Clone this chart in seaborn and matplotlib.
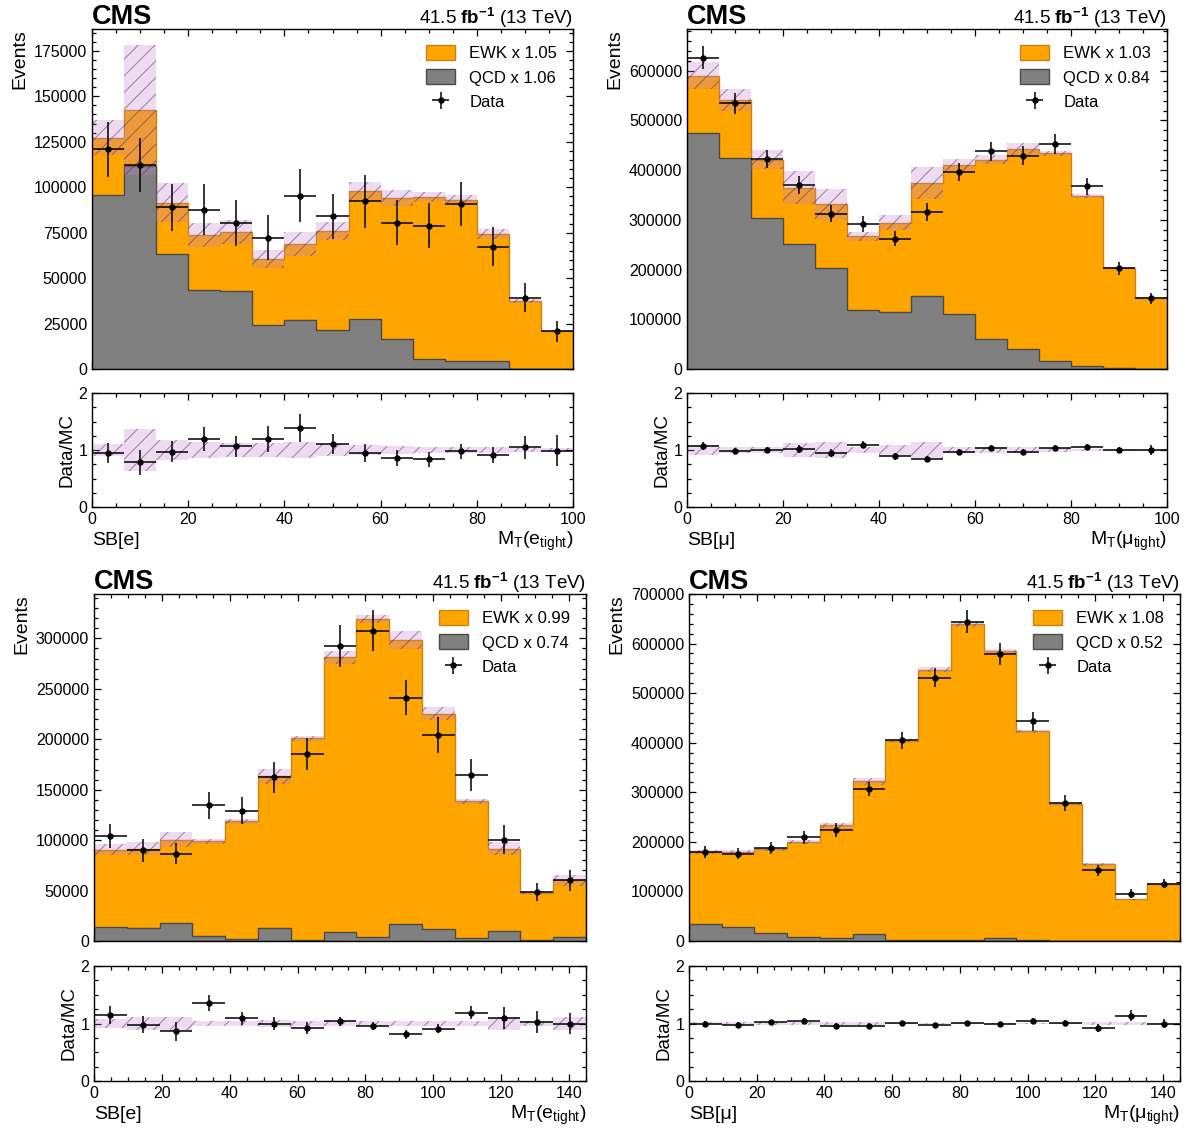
import numpy as np
import pandas as pd
import matplotlib
matplotlib.use("Agg")
import matplotlib.pyplot as plt
import matplotlib.transforms as mtransforms
from matplotlib.ticker import AutoMinorLocator, MultipleLocator
from matplotlib.patches import Patch
import seaborn as sns

sns.set_theme(style="ticks")
plt.rcParams["font.family"] = ["Liberation Sans", "DejaVu Sans"]
plt.rcParams["mathtext.fontset"] = "custom"
plt.rcParams["mathtext.rm"] = "Liberation Sans"
plt.rcParams["mathtext.it"] = "Liberation Sans:italic"
plt.rcParams["mathtext.bf"] = "Liberation Sans:bold"
plt.rcParams["hatch.linewidth"] = 0.8
plt.rcParams["axes.linewidth"] = 1.0
plt.rcParams["text.color"] = "black"
plt.rcParams["axes.labelcolor"] = "black"
plt.rcParams["xtick.color"] = "black"
plt.rcParams["ytick.color"] = "black"
plt.rcParams["axes.edgecolor"] = "black"

# ---------------- binning ----------------
sb_edges = np.linspace(0, 100, 16)
mt_edges = np.linspace(0, 145, 16)

# ---------------- electron sideband ----------------
e_sb_qcd = [95700, 111800, 63100, 43400, 43000, 24200, 26900, 21400, 27600, 16300, 5500, 4600, 4200, 0, 0]
e_sb_ewk = [31500, 30600, 28400, 30200, 32400, 36200, 41700, 54500, 70100, 77600, 88900, 88400, 69900, 37500, 21000]
e_sb_unc = [9500, 35700, 10700, 6500, 6600, 5000, 6700, 4700, 5300, 4300, 2700, 2700, 2800, 1000, 700]
e_sb_data = [120800, 112200, 88900, 87500, 80200, 72300, 95400, 84000, 92200, 80500, 78900, 90800, 67300, 39300, 20700]
e_sb_data_err = [15000, 15000, 13000, 14000, 12500, 12500, 14400, 12300, 14400, 12400, 12600, 12200, 10800, 8000, 5800]
e_sb_ratio_err = [0.18, 0.22, 0.18, 0.21, 0.19, 0.23, 0.245, 0.17, 0.155, 0.14, 0.135, 0.13, 0.14, 0.20, 0.27]
e_sb_ratio_unc = [0.11, 0.365, 0.17, 0.14, 0.12, 0.13, 0.145, 0.10, 0.09, 0.07, 0.05, 0.05, 0.06, 0.03, 0.03]

# ---------------- muon sideband ----------------
m_sb_qcd = [475000, 424200, 304000, 250500, 203700, 118900, 114200, 147000, 110200, 60100, 40700, 16700, 5300, 2000, 700]
m_sb_total = [589800, 541100, 420800, 364700, 331300, 267200, 293900, 374700, 409500, 420800, 442900, 434200, 348000, 202400, 142300]
m_sb_unc = [27000, 22700, 19000, 32700, 31000, 9000, 15000, 31700, 13400, 9000, 12400, 5000, 4400, 2000, 1500]
m_sb_data = [626600, 534400, 422800, 370700, 312600, 292600, 262500, 316000, 396100, 438200, 429500, 452900, 367400, 202400, 142300]
m_sb_data_err = [23400, 21700, 18700, 17700, 17400, 16000, 16000, 17400, 18400, 19000, 18700, 20000, 17700, 12700, 11400]
m_sb_ratio_err = [0.07, 0.05, 0.05, 0.07, 0.07, 0.06, 0.06, 0.06, 0.05, 0.05, 0.05, 0.05, 0.05, 0.06, 0.08]
m_sb_ratio_unc = [0.08, 0.06, 0.045, 0.13, 0.14, 0.06, 0.09, 0.14, 0.06, 0.045, 0.05, 0.03, 0.025, 0.015, 0.015]

# ---------------- electron MT ----------------
e_mt_qcd = [13800, 13200, 17500, 4900, 2300, 13200, 1000, 8900, 4000, 16500, 11500, 3300, 9900, 700, 4300]
e_mt_total = [90600, 91600, 100500, 98900, 118600, 163100, 201000, 281100, 319000, 298300, 225400, 138400, 91600, 47800, 60000]
e_mt_unc = [5300, 6400, 7400, 2600, 2300, 7400, 2500, 6000, 3800, 9000, 6600, 2300, 6600, 1600, 5000]
e_mt_data = [103800, 90000, 86700, 134500, 129200, 162500, 185600, 292700, 307500, 241300, 204400, 164800, 100500, 48800, 60000]
e_mt_data_err = [11900, 11500, 10700, 13500, 13700, 15300, 16000, 20600, 20300, 17600, 17800, 16100, 14700, 9000, 10500]
e_mt_ratio_err = [0.155, 0.14, 0.16, 0.14, 0.115, 0.115, 0.10, 0.08, 0.07, 0.07, 0.08, 0.12, 0.19, 0.19, 0.19]
e_mt_ratio_unc = [0.086, 0.11, 0.115, 0.04, 0.04, 0.066, 0.035, 0.05, 0.035, 0.045, 0.045, 0.035, 0.11, 0.045, 0.11]

# ---------------- muon MT ----------------
m_mt_qcd = [33600, 28200, 15400, 8700, 5400, 14800, 2000, 1300, 2700, 6700, 1300, 700, 300, 0, 0]
m_mt_total = [179900, 179900, 184600, 199300, 233600, 322100, 404000, 547000, 638900, 585200, 422800, 276500, 154400, 83900, 115400]
m_mt_unc = [4000, 4000, 4000, 4000, 5000, 7500, 3000, 5000, 5000, 4500, 3500, 3000, 2500, 1500, 1500]
m_mt_data = [179200, 176500, 187900, 209400, 224800, 306700, 404700, 531500, 644300, 579200, 443000, 278500, 142300, 95300, 115400]
m_mt_data_err = [12000, 12000, 12000, 13000, 14000, 15000, 17500, 20000, 23000, 21700, 19000, 15400, 11000, 9000, 9400]
m_mt_ratio_err = [0.05, 0.05, 0.05, 0.05, 0.05, 0.05, 0.045, 0.04, 0.04, 0.04, 0.045, 0.055, 0.07, 0.10, 0.08]
m_mt_ratio_unc = [0.02, 0.025, 0.02, 0.02, 0.03, 0.03, 0.015, 0.015, 0.015, 0.015, 0.015, 0.015, 0.025, 0.02, 0.015]

# fitted normalisation factors (EWK, QCD)
scale_factors = {
    "e_sb": ("1.05", "1.06"),
    "m_sb": ("1.03", "0.84"),
    "e_mt": ("0.99", "0.74"),
    "m_mt": ("1.08", "0.52"),
}

ORANGE = "#FFA500"
ORANGE_EDGE = "#C98414"
GREY = "#808080"
GREY_EDGE = "#4A4A4A"
BAND_FACE = (0.76, 0.50, 0.82, 0.28)
HATCH_COL = (0.30, 0.22, 0.36, 0.50)

W, H = 1186, 1130
fig = plt.figure(figsize=(W / 100, H / 100), dpi=100)


def rect(x0, x1, ytop, ybot):
    return [x0 / W, 1 - ybot / H, (x1 - x0) / W, (ybot - ytop) / H]


def style_axis(ax):
    ax.tick_params(which="both", direction="in", top=True, right=True,
                   labelsize=11.5, width=0.9, color="black", labelcolor="black")
    ax.tick_params(which="major", length=5)
    ax.tick_params(which="minor", length=2.6)
    for s in ax.spines.values():
        s.set_color("black")
        s.set_linewidth(1.0)


def draw_panel(box_main, box_ratio, edges, qcd, total, unc, data, data_err,
               r_err, r_unc, key, ymax, ystep, region, obs):
    qcd = np.asarray(qcd, float)
    total = np.asarray(total, float)
    unc = np.asarray(unc, float)
    data = np.asarray(data, float)
    data_err = np.asarray(data_err, float)
    r_err = np.asarray(r_err, float)
    r_unc = np.asarray(r_unc, float)
    centers = 0.5 * (edges[:-1] + edges[1:])
    half = 0.5 * np.diff(edges)
    bin_list = [float(e) for e in edges]

    ax = fig.add_axes(rect(*box_main))
    rax = fig.add_axes(rect(*box_ratio), sharex=ax)

    df = pd.DataFrame({"x": centers, "total": total, "qcd": qcd})
    # stacked prediction: EWK on top of QCD
    sns.histplot(data=df, x="x", weights="total", bins=bin_list, element="step",
                 fill=True, color=ORANGE, alpha=1, edgecolor=ORANGE_EDGE,
                 linewidth=1.0, ax=ax, zorder=1)
    sns.histplot(data=df, x="x", weights="qcd", bins=bin_list, element="step",
                 fill=True, color=GREY, alpha=1, edgecolor=GREY_EDGE,
                 linewidth=1.0, ax=ax, zorder=1.1)

    lo = np.append(total - unc, (total - unc)[-1])
    hi = np.append(total + unc, (total + unc)[-1])
    ax.fill_between(edges, lo, hi, step="post", facecolor=BAND_FACE,
                    edgecolor=HATCH_COL, hatch="//", linewidth=0, zorder=2)

    dh = ax.errorbar(centers, data, yerr=data_err, xerr=half, fmt="o",
                     color="black", ms=3.6, elinewidth=1.1, capsize=0, zorder=3)

    ax.set_xlim(edges[0], edges[-1])
    ax.set_ylim(0, ymax)
    ax.yaxis.set_major_locator(MultipleLocator(ystep))
    ax.yaxis.set_minor_locator(AutoMinorLocator())
    ax.xaxis.set_major_locator(MultipleLocator(20))
    ax.xaxis.set_minor_locator(AutoMinorLocator(4))
    style_axis(ax)
    ax.tick_params(labelbottom=False)
    ax.set_xlabel("")
    ax.set_ylabel("Events", loc="top", fontsize=14, labelpad=4)

    sf_ewk, sf_qcd = scale_factors[key]
    handles = [Patch(facecolor=ORANGE, edgecolor=ORANGE_EDGE, linewidth=1.0),
               Patch(facecolor=GREY, edgecolor=GREY_EDGE, linewidth=1.0),
               dh]
    labels = [f"EWK x {sf_ewk}", f"QCD x {sf_qcd}", "Data"]
    ax.legend(handles, labels, loc="upper right", frameon=False, fontsize=12,
              handlelength=1.75, handleheight=1.0, labelspacing=0.5,
              handletextpad=0.85, borderaxespad=0.55)

    above = mtransforms.offset_copy(ax.transAxes, fig=fig, x=0, y=5, units="dots")
    ax.text(0.0, 1.0, "CMS", transform=above, fontsize=19.5, fontweight="bold",
            ha="left", va="baseline")
    ax.text(1.0, 1.0, r"41.5 $\mathbf{fb^{-1}}$ (13 TeV)", transform=above,
            fontsize=13.5, ha="right", va="baseline")

    # ratio panel
    rlo = np.append(1 - r_unc, (1 - r_unc)[-1])
    rhi = np.append(1 + r_unc, (1 + r_unc)[-1])
    rax.fill_between(edges, rlo, rhi, step="post", facecolor=BAND_FACE,
                     edgecolor=HATCH_COL, hatch="//", linewidth=0, zorder=2)
    rax.errorbar(centers, data / total, yerr=r_err, xerr=half, fmt="o",
                 color="black", ms=3.6, elinewidth=1.1, capsize=0, zorder=3)
    rax.set_ylim(0, 2)
    rax.yaxis.set_major_locator(MultipleLocator(1))
    rax.yaxis.set_minor_locator(AutoMinorLocator(4))
    style_axis(rax)
    rax.set_ylabel("Data/MC", fontsize=13.5, labelpad=2)
    rax.set_xlabel("")
    below = mtransforms.offset_copy(rax.transAxes, fig=fig, x=0, y=-38, units="dots")
    rax.text(0.0, 0.0, region, transform=below, fontsize=14, ha="left", va="baseline")
    rax.text(1.0, 0.0, obs, transform=below, fontsize=14, ha="right", va="baseline")
    rax.set_xlim(edges[0], edges[-1])


e_sb_total = np.asarray(e_sb_qcd) + np.asarray(e_sb_ewk)

draw_panel((92, 573, 29, 369), (92, 573, 393, 507), sb_edges,
           e_sb_qcd, e_sb_total, e_sb_unc, e_sb_data, e_sb_data_err,
           e_sb_ratio_err, e_sb_ratio_unc, "e_sb", 187000, 25000,
           "SB[e]", r"M$_\mathrm{T}$(e$_\mathrm{tight}$)")
draw_panel((687, 1167, 29, 369), (687, 1167, 393, 507), sb_edges,
           m_sb_qcd, m_sb_total, m_sb_unc, m_sb_data, m_sb_data_err,
           m_sb_ratio_err, m_sb_ratio_unc, "m_sb", 684000, 100000,
           "SB[μ]", r"M$_\mathrm{T}$(μ$_\mathrm{tight}$)")
draw_panel((94, 586, 594, 941), (94, 586, 966, 1081), mt_edges,
           e_mt_qcd, e_mt_total, e_mt_unc, e_mt_data, e_mt_data_err,
           e_mt_ratio_err, e_mt_ratio_unc, "e_mt", 344000, 50000,
           "SB[e]", r"M$_\mathrm{T}$(e$_\mathrm{tight}$)")
draw_panel((689, 1180, 594, 941), (689, 1180, 966, 1081), mt_edges,
           m_mt_qcd, m_mt_total, m_mt_unc, m_mt_data, m_mt_data_err,
           m_mt_ratio_err, m_mt_ratio_unc, "m_mt", 700000, 100000,
           "SB[μ]", r"M$_\mathrm{T}$(μ$_\mathrm{tight}$)")

fig.savefig("out.png", dpi=100, facecolor="white")
